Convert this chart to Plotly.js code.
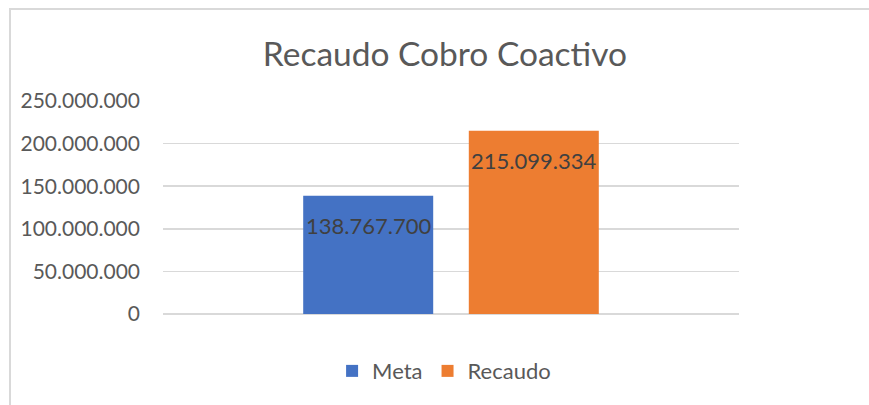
<!DOCTYPE html>
<html>
<head>
<meta charset="utf-8">
<script src="https://cdn.plot.ly/plotly-3.0.1.min.js"></script>
<style>
  html, body { margin: 0; padding: 0; background: #ffffff; }
  #wrap { position: relative; width: 869px; height: 405px; overflow: hidden; }
  #chart { position: absolute; left: 0; top: 0; width: 869px; height: 405px; }
  #frame { position: absolute; left: 9px; top: 8px; width: 900px; height: 450px;
           border-left: 2px solid #d9d9d9; border-top: 2px solid #d9d9d9;
           pointer-events: none; }
</style>
</head>
<body>
<div id="wrap">
  <div id="chart"></div>
  <div id="frame"></div>
</div>
<script>
const categories = ['Cobro Coactivo'];
const seriesNames = ['Meta', 'Recaudo'];
const metaValues = [138767700];
const recaudoValues = [215099334];
const tickValues = [0, 50000000, 100000000, 150000000, 200000000, 250000000];
const tickLabels = ['0', '50.000.000', '100.000.000', '150.000.000', '200.000.000', '250.000.000'];

function fmt(v) {
  return String(Math.round(v)).replace(/\B(?=(\d{3})+(?!\d))/g, '.');
}

const FONT = 'Lato, "Open Sans", sans-serif';

const series = [
  { name: seriesNames[0], values: metaValues, color: '#4472C4', shift: -83 },
  { name: seriesNames[1], values: recaudoValues, color: '#ED7D31', shift: 82.5 }
];

const traces = series.map(s => ({
  type: 'bar',
  name: s.name,
  x: categories,
  y: s.values,
  marker: { color: s.color, line: { width: 0 } },
  hoverinfo: 'none'
}));

const annotations = [];
series.forEach(s => {
  s.values.forEach((v, i) => {
    annotations.push({
      x: categories[i], y: v, xref: 'x', yref: 'y',
      text: fmt(v), showarrow: false,
      xanchor: 'center', yanchor: 'top',
      xshift: s.shift, yshift: -14,
      font: { family: FONT, size: 22, color: '#404040' }
    });
  });
});

const layout = {
  width: 869,
  height: 405,
  margin: { l: 163, r: 130, t: 101, b: 91 },
  paper_bgcolor: '#ffffff',
  plot_bgcolor: '#ffffff',
  font: { family: FONT, color: '#595959' },
  title: {
    text: 'Recaudo Cobro Coactivo',
    font: { family: FONT, size: 33.5, color: '#595959' },
    x: 0.512, xanchor: 'center',
    y: 0.865, yanchor: 'middle'
  },
  barmode: 'group',
  bargap: 0.425,
  bargroupgap: 0.215,
  xaxis: {
    type: 'category',
    showticklabels: false,
    showgrid: false,
    zeroline: false,
    showline: false,
    ticks: ''
  },
  yaxis: {
    range: [0, 250000000],
    tickvals: tickValues,
    ticktext: tickLabels,
    showgrid: true,
    gridcolor: '#d9d9d9',
    gridwidth: 1.5,
    zeroline: true,
    zerolinecolor: '#d9d9d9',
    zerolinewidth: 1.5,
    showline: false,
    ticks: '',
    ticklabelstandoff: 22,
    tickfont: { family: FONT, size: 21, color: '#595959' }
  },
  annotations: annotations,
  showlegend: true,
  legend: {
    orientation: 'h',
    x: 0.488, xanchor: 'center',
    y: -0.268, yanchor: 'middle',
    font: { family: FONT, size: 22, color: '#595959' },
    traceorder: 'normal'
  }
};

Plotly.newPlot('chart', traces, layout, { staticPlot: true, displayModeBar: false });
</script>
</body>
</html>
